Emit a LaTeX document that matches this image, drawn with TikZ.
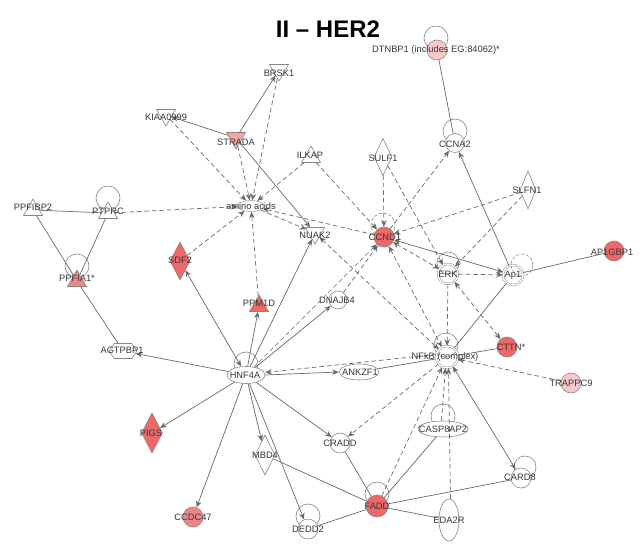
\documentclass[tikz,border=0pt]{standalone}
\usepackage{fontspec}
\setmainfont{Liberation Sans}
\usetikzlibrary{arrows.meta,shapes.geometric,shapes.symbols}
\definecolor{ec}{RGB}{105,105,105}
\definecolor{nc}{RGB}{135,135,135}
\definecolor{tc}{RGB}{55,55,55}
\definecolor{ra}{RGB}{238,104,104}
\definecolor{rb}{RGB}{241,132,132}
\definecolor{rc}{RGB}{244,165,165}
\definecolor{rd}{RGB}{247,200,200}
\begin{document}
\begin{tikzpicture}[x=1pt,y=-1pt,
  every node/.style={inner sep=0pt},
  shp/.style={draw=nc, line width=0.6pt, fill=white},
  circ/.style={shp, circle, minimum size=19pt},
  dcirc/.style={circle, draw=nc, line width=0.45pt, double=white, double distance=1.4pt, minimum size=20pt},
  utri/.style={shp, regular polygon, regular polygon sides=3, minimum size=22pt},
  dtri/.style={utri, shape border rotate=180},
  dia/.style={shp, diamond, minimum width=18pt, minimum height=37pt},
  ell/.style={shp, ellipse, minimum width=38pt, minimum height=16pt},
  hexa/.style={shp, signal, signal to=west and east, signal pointer angle=110, minimum width=28pt, minimum height=15pt},
  lab/.style={font=\fontsize{9.3}{10}\selectfont, text=tc},
  lp/.style={draw=nc, line width=0.6pt},
  esol/.style={draw=ec, line width=0.7pt},
  earr/.style={esol, -{Stealth[length=6.5pt,width=5.5pt]}},
  ebi/.style={esol, {Stealth[length=6.5pt,width=5.5pt]}-{Stealth[length=6.5pt,width=5.5pt]}},
  edsh/.style={esol, dash pattern=on 4.5pt off 3pt},
  edarr/.style={edsh, -{Stealth[length=6.5pt,width=5.5pt]}},
  edbi/.style={edsh, {Stealth[length=6.5pt,width=5.5pt]}-{Stealth[length=6.5pt,width=5.5pt]}},
]
\useasboundingbox (0,0) rectangle (640,559);
\fill[white] (0,0) rectangle (640,559);

% title
\node (title) at (328,29) {\fontsize{24}{26}\selectfont\bfseries II – HER2};

% self loops
\draw[lp] (436,38) circle (12pt);
\draw[lp] (455,131) circle (12pt);
\draw[lp] (108,198) circle (12pt);
\draw[lp] (77,266) circle (12pt);
\draw[lp, dash pattern=on 3pt off 2pt] (383,225) circle (12pt);
\draw[lp] (448,263) circle (11pt);
\draw[lp, dash pattern=on 3pt off 2pt] (522,265) circle (11pt);
\draw[lp] (446,345) circle (12pt);
\draw[lp] (246,364) circle (12pt);
\draw[lp] (443,416) circle (12pt);
\draw[lp] (525,467) circle (11pt);
\draw[lp] (308,516) circle (12pt);
\draw[lp] (377,494) circle (12pt);

% nodes (shapes)
\node[circ, fill=rd, minimum size=20pt] (DTNBP1) at (437,50) {};
\node[dtri] (BRSK1) at (279,70) {};
\node[dtri] (KIAA) at (166,115) {};
\node[dtri, fill=rc] (STRADA) at (236,138) {};
\node[utri] (ILKAP) at (311,157) {};
\node[dia, minimum height=37pt] (SULF1) at (383,157) {};
\node[circ] (CCNA2) at (455,143) {};
\node[dia, minimum width=16pt, minimum height=38pt] (SLFN1) at (528,190) {};
\node[utri] (PPFIBP2) at (33,210) {};
\node[utri] (PTPRC) at (108,213) {};
\node[shp, ellipse, minimum width=26pt, minimum height=11pt, draw=nc!70] (AA) at (251,206) {};
\node[dtri] (NUAK2) at (315,233) {};
\node[circ, fill=ra, minimum size=20pt] (CCND1) at (384,237) {};
\node[dcirc] (ERK) at (448,274) {};
\node[dcirc] (Ap1) at (513,275) {};
\node[circ, fill=ra, minimum size=20pt] (AP1GBP1) at (614,251) {};
\node[utri, fill=rb] (PPFIA1) at (77,281) {};
\node[dia, fill=ra, minimum width=20pt, minimum height=38pt] (SDF2) at (180,261) {};
\node[utri, fill=ra] (PPM1D) at (259,306) {};
\node[circ, minimum size=18pt] (DNAJB4) at (338,300) {};
\node[circ, fill=ra, minimum size=20pt] (CTTN) at (507,347) {};
\node[dcirc, minimum size=22pt] (NFkB) at (447,357) {};
\node[circ, fill=rd, minimum size=20pt] (TRAPPC9) at (571,383) {};
\node[hexa] (AGTPBP1) at (123,351) {};
\node[ell, minimum width=38pt, minimum height=17pt] (HNF4A) at (246,375) {};
\node[ell, minimum width=40pt, minimum height=16pt] (ANKZF1) at (359,372) {};
\node[ell, minimum width=50pt, minimum height=16pt] (CASP8AP2) at (443,429) {};
\node[dia, fill=ra, minimum width=21pt, minimum height=40pt] (PIGS) at (152,433) {};
\node[dia, minimum width=20pt, minimum height=40pt] (MBD4) at (265,455) {};
\node[circ, minimum size=20pt] (CRADD) at (340,443) {};
\node[circ, minimum size=20pt] (CARD8) at (521,478) {};
\node[circ, fill=rb, minimum size=20pt] (CCDC47) at (193,517) {};
\node[circ, minimum size=20pt] (DEDD2) at (308,529) {};
\node[circ, fill=ra, minimum size=22pt] (FADD) at (377,506) {};
\node[ell, minimum width=20pt, minimum height=42pt] (EDA2R) at (449,520) {};

% edges
\draw[esol] (DTNBP1) -- (CCNA2);
\draw[earr] (STRADA) -- (BRSK1);
\draw[earr] (STRADA) -- (KIAA);
\draw[earr] (STRADA) -- (NUAK2);
\draw[edarr] (BRSK1) -- (AA);
\draw[edarr] (KIAA) -- (AA);
\draw[edarr] (STRADA) -- (AA);
\draw[edarr] (ILKAP) -- (AA);
\draw[edarr] (ILKAP) -- (CCND1);
\draw[edarr] (SULF1) -- (CCND1);
\draw[edarr] (SULF1) -- (ERK);
\draw[edarr] (CCND1) -- (CCNA2);
\draw[earr] (Ap1) -- (CCNA2);
\draw[edarr] (SLFN1) -- (CCND1);
\draw[edarr] (SLFN1) -- (ERK);
\draw[edbi] (CCND1) -- (ERK);
\draw[ebi] (CCND1) -- (Ap1);
\draw[edarr] (ERK) -- (Ap1);
\draw[esol] (Ap1) -- (AP1GBP1);
\draw[esol] (Ap1) -- (NFkB);
\draw[edarr] (ERK) -- (NFkB);
\draw[edbi] (ERK) -- (CTTN);
\draw[esol] (CTTN) -- (NFkB);
\draw[edarr] (TRAPPC9) -- (NFkB);
\draw[edbi] (CCND1) -- (NFkB);
\draw[edbi] (NUAK2) -- (NFkB);
\draw[edarr] (AA) -- (NUAK2);
\draw[edarr] (CCND1) -- (AA);
\draw[edarr] (PTPRC) -- (AA);
\draw[esol] (PPFIBP2) -- (PTPRC);
\draw[esol] (PPFIBP2) -- (PPFIA1);
\draw[esol] (PTPRC) -- (PPFIA1);
\draw[esol] (PPFIA1) -- (AGTPBP1);
\draw[earr] (HNF4A) -- (AGTPBP1);
\draw[ebi] (HNF4A) -- (SDF2);
\draw[edarr] (SDF2) -- (AA);
\draw[edarr] (PPM1D) -- (AA);
\draw[earr] (HNF4A) -- (PPM1D);
\draw[earr] (HNF4A) -- (NUAK2);
\draw[earr] (HNF4A) -- (DNAJB4);
\draw[edarr] (HNF4A) -- (CCND1);
\draw[edarr] (DNAJB4) -- (CCND1);
\draw[earr] (HNF4A.east) -- (ANKZF1.west);
\draw[edarr] ([yshift=2.5pt]NFkB.west) -- ([yshift=2.5pt]HNF4A.east);
\draw[esol] (ANKZF1) -- (NFkB);
\draw[earr] (HNF4A) -- (PIGS);
\draw[earr] (HNF4A) -- (CCDC47);
\draw[earr] (HNF4A) -- (MBD4);
\draw[earr] (HNF4A) -- (DEDD2);
\draw[earr] (HNF4A) -- (CRADD);
\draw[edarr] (NFkB) -- (CRADD);
\draw[edarr] (FADD) -- (NFkB);
\draw[edarr] ([xshift=-1.5pt]CASP8AP2.north) -- ([xshift=-1.5pt]NFkB.south);
\draw[edarr] ([xshift=1.5pt]EDA2R.north) -- ([xshift=1.5pt]NFkB.south);
\draw[ebi] (CARD8) -- (NFkB);
\draw[esol] (CRADD) -- (FADD);
\draw[esol] (CASP8AP2) -- (FADD);
\draw[esol] (MBD4) -- (FADD);
\draw[esol] (DEDD2) -- (FADD);
\draw[esol] (CARD8) -- (FADD);
\draw[esol] (EDA2R) -- (FADD);

% labels
\node[lab] (tDTNBP1) at (436,50) {DTNBP1 (includes EG:84062)*};
\node[lab] (tBRSK1) at (279,73) {BRSK1};
\node[lab] (tKIAA) at (166,117) {KIAA0999};
\node[lab] (tSTRADA) at (236,142) {STRADA};
\node[lab] (tILKAP) at (310,155) {ILKAP};
\node[lab] (tSULF1) at (383,158) {SULF1};
\node[lab] (tCCNA2) at (455,144) {CCNA2};
\node[lab] (tSLFN1) at (527,190) {SLFN1};
\node[lab] (tPPFIBP2) at (33,207) {PPFIBP2};
\node[lab] (tPTPRC) at (108,211) {PTPRC};
\node[lab] (tAA) at (251,206) {amino acids};
\node[lab] (tNUAK2) at (315,235) {NUAK2};
\node[lab] (tCCND1) at (385,237) {CCND1};
\node[lab] (tERK) at (448,274) {ERK};
\node[lab] (tAp1) at (513,275) {Ap1};
\node[lab] (tAP1GBP1) at (612,252) {AP1GBP1};
\node[lab] (tPPFIA1) at (77,278) {PPFIA1*};
\node[lab] (tSDF2) at (180,260) {SDF2};
\node[lab] (tPPM1D) at (259,303) {PPM1D};
\node[lab] (tDNAJB4) at (337,300) {DNAJB4};
\node[lab] (tCTTN) at (511,347) {CTTN*};
\node[lab] (tNFkB) at (445,357) {NFkB (complex)};
\node[lab] (tTRAPPC9) at (571,383) {TRAPPC9};
\node[lab] (tAGTPBP1) at (122,350) {AGTPBP1};
\node[lab] (tHNF4A) at (245,375) {HNF4A};
\node[lab] (tANKZF1) at (360,372) {ANKZF1};
\node[lab] (tCASP8AP2) at (443,429) {CASP8AP2};
\node[lab] (tPIGS) at (151,433) {PIGS};
\node[lab] (tMBD4) at (265,455) {MBD4};
\node[lab] (tCRADD) at (340,443) {CRADD};
\node[lab] (tCARD8) at (520,477) {CARD8};
\node[lab] (tCCDC47) at (193,517) {CCDC47};
\node[lab] (tDEDD2) at (308,529) {DEDD2};
\node[lab] (tFADD) at (377,506) {FADD};
\node[lab] (tEDA2R) at (449,520) {EDA2R};
\end{tikzpicture}
\end{document}
